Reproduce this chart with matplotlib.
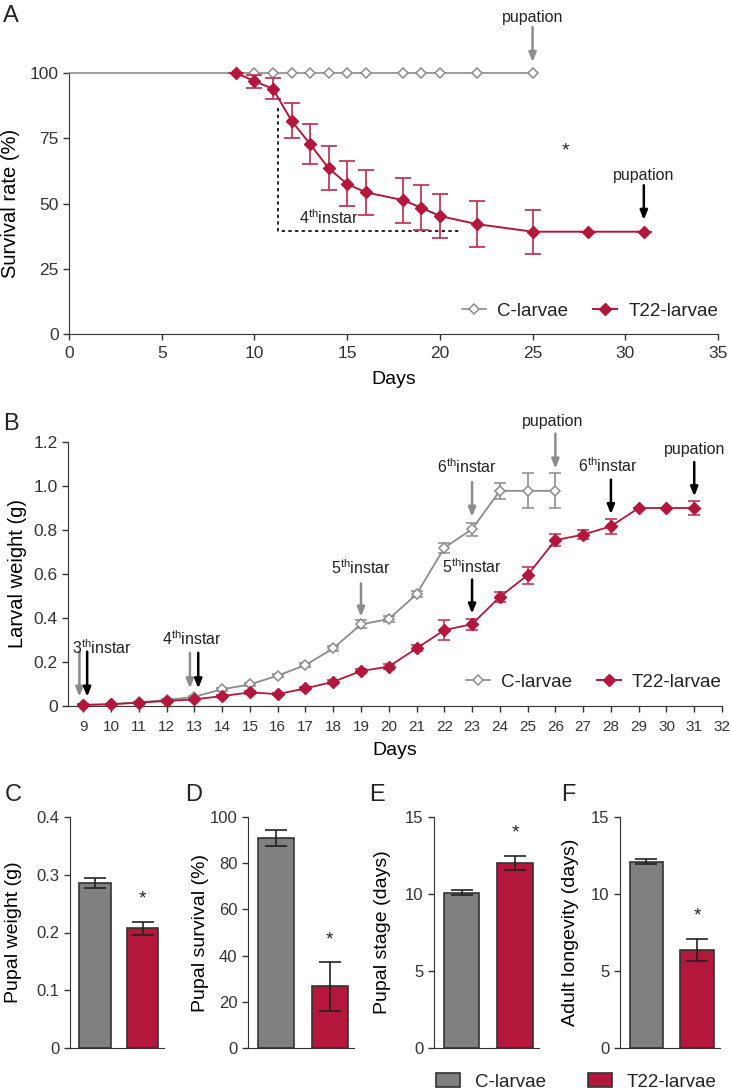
import matplotlib
matplotlib.use('Agg')
import matplotlib.pyplot as plt
from matplotlib.patches import Patch
from matplotlib.lines import Line2D

plt.rcParams['font.family'] = ['Liberation Sans', 'DejaVu Sans']
plt.rcParams['mathtext.fontset'] = 'custom'
plt.rcParams['mathtext.rm'] = 'Liberation Sans'
plt.rcParams['axes.edgecolor'] = '#333333'
plt.rcParams['xtick.color'] = '#333333'
plt.rcParams['ytick.color'] = '#333333'
plt.rcParams['text.color'] = '#222222'

RED = '#B3173B'
RED_ERR = '#C4385A'
GRAY = '#8C8C8C'
BAR_GRAY = '#808080'

# ---- panel A: survival rate ----
a_days_c = [0, 10, 11, 12, 13, 14, 15, 16, 18, 19, 20, 22, 25]
a_surv_c = [100, 100, 100, 100, 100, 100, 100, 100, 100, 100, 100, 100, 100]
a_days_t = [9, 10, 11, 12, 13, 14, 15, 16, 18, 19, 20, 22, 25, 28, 31]
a_surv_t = [100, 96.9, 93.9, 81.7, 72.8, 63.5, 57.5, 54.3, 51.3, 48.4, 45.2, 42.1, 39.2, 39.2, 39.2]
a_err_t = [0, 2.5, 4.0, 6.7, 7.7, 8.5, 8.6, 8.7, 8.6, 8.7, 8.6, 8.7, 8.5, 0, 0]

# ---- panel B: larval weight ----
b_days_c = list(range(9, 27))
b_wt_c = [0.005, 0.008, 0.017, 0.027, 0.042, 0.076, 0.098, 0.138, 0.186, 0.262, 0.371,
          0.395, 0.508, 0.719, 0.804, 0.978, 0.978, 0.978]
b_err_c = [0.002, 0.002, 0.003, 0.004, 0.005, 0.006, 0.006, 0.007, 0.009, 0.010, 0.018,
           0.012, 0.014, 0.023, 0.030, 0.036, 0.080, 0.080]
b_days_t = list(range(9, 32))
b_wt_t = [0.005, 0.008, 0.015, 0.023, 0.030, 0.045, 0.062, 0.054, 0.080, 0.110, 0.159,
          0.179, 0.262, 0.345, 0.372, 0.496, 0.595, 0.754, 0.779, 0.817, 0.900, 0.900, 0.900]
b_err_t = [0.002, 0.003, 0.003, 0.004, 0.004, 0.006, 0.006, 0.006, 0.007, 0.008, 0.010,
           0.010, 0.014, 0.047, 0.025, 0.023, 0.039, 0.026, 0.020, 0.035, 0.0, 0.0, 0.030]

# instar / pupation markers in B: (day, arrow tail, arrow tip, colour)
b_arrows = [(8.86, 0.247, 0.042, GRAY), (9.14, 0.247, 0.042, 'black'),
            (12.84, 0.242, 0.080, GRAY), (13.14, 0.242, 0.080, 'black'),
            (19, 0.557, 0.406, GRAY), (23, 1.018, 0.860, GRAY), (26, 1.238, 1.079, GRAY),
            (23, 0.575, 0.420, 'black'), (28, 1.029, 0.872, 'black'), (31, 1.109, 0.953, 'black')]
b_labels = [(9.66, 0.225, r'$\mathregular{3^{th}instar}$'), (12.9, 0.262, r'$\mathregular{4^{th}instar}$'),
            (19.0, 0.585, r'$\mathregular{5^{th}instar}$'), (22.8, 1.045, r'$\mathregular{6^{th}instar}$'),
            (25.9, 1.258, 'pupation'), (23.0, 0.593, r'$\mathregular{5^{th}instar}$'),
            (27.9, 1.048, r'$\mathregular{6^{th}instar}$'), (31.0, 1.133, 'pupation')]

# ---- panels C-F: bar charts ----
groups = ['C-larvae', 'T22-larvae']
pupal_weight = [0.286, 0.207]
pupal_weight_err = [0.009, 0.012]
pupal_survival = [90.9, 26.7]
pupal_survival_err = [3.4, 10.5]
pupal_stage = [10.08, 12.02]
pupal_stage_err = [0.15, 0.46]
adult_longevity = [12.09, 6.37]
adult_longevity_err = [0.17, 0.73]

W, H = 732, 1091
fig = plt.figure(figsize=(W / 100, H / 100), dpi=100)


def px_axes(left, top, right, bottom):
    return fig.add_axes([left / W, 1 - bottom / H, (right - left) / W, (bottom - top) / H])


def clean(ax):
    ax.spines['top'].set_visible(False)
    ax.spines['right'].set_visible(False)
    ax.tick_params(direction='out', length=4, width=1)


# ================= A =================
axA = px_axes(69, 73, 718, 334)
clean(axA)
axA.plot(a_days_c, a_surv_c, color=GRAY, lw=1.2, marker='D', ms=5, mfc='white', mec=GRAY,
         mew=1.1, markevery=list(range(1, len(a_days_c))), clip_on=False, zorder=3)
axA.errorbar(a_days_t, a_surv_t, yerr=a_err_t, color=RED, ecolor=RED_ERR, lw=1.4, elinewidth=1.3,
             capsize=5.5, capthick=1.3, marker='D', ms=6.5, mfc=RED, mec=RED, clip_on=False, zorder=4)
axA.plot([11.29, 11.29, 21.05], [86.5, 39.5, 39.5], color='black', lw=1.2, ls=(0, (2, 2)))
axA.text(14.0, 41, r'$\mathregular{4^{th}instar}$', ha='center', va='bottom', fontsize=11.5)
axA.text(26.75, 67, '*', ha='center', va='bottom', fontsize=14)
arrow_kw = dict(arrowstyle='-|>,head_length=0.55,head_width=0.22', lw=1.8, mutation_scale=10,
                shrinkA=0, shrinkB=0)
axA.annotate('', xy=(25, 104.2), xytext=(25, 117.6), arrowprops=dict(color=GRAY, **arrow_kw),
             annotation_clip=False)
axA.text(25, 118.3, 'pupation', ha='center', va='bottom', fontsize=11.5)
axA.annotate('', xy=(31, 43.7), xytext=(31, 57), arrowprops=dict(color='black', **arrow_kw))
axA.text(31, 58, 'pupation', ha='center', va='bottom', fontsize=11.5)
axA.set_xlim(0, 35)
axA.set_ylim(0, 100)
axA.set_xticks(range(0, 36, 5))
axA.set_yticks([0, 25, 50, 75, 100])
axA.tick_params(labelsize=12.5)
axA.tick_params(axis='x', pad=5)
axA.set_xlabel('Days', fontsize=14, labelpad=7)
axA.set_ylabel('Survival rate (%)', fontsize=14.5)
axA.yaxis.set_label_coords(-0.076, 0.5)
hA = [Line2D([], [], color=GRAY, lw=1.2, marker='D', ms=5, mfc='white', mec=GRAY, mew=1.1),
      Line2D([], [], color=RED, lw=1.4, marker='D', ms=6.5, mfc=RED, mec=RED)]
axA.legend(hA, groups, loc='center right', bbox_to_anchor=(1.0, 0.088), ncol=2, frameon=False,
           fontsize=13.5, handlelength=1.3, handletextpad=0.6, columnspacing=1.3,
           borderaxespad=0, borderpad=0)

# ================= B =================
axB = px_axes(68, 442, 722, 706)
clean(axB)
axB.errorbar(b_days_c, b_wt_c, yerr=b_err_c, color=GRAY, ecolor=GRAY, lw=1.3, elinewidth=1.2,
             capsize=4.5, capthick=1.2, marker='D', ms=5, mfc='white', mec=GRAY, mew=1.1,
             clip_on=False, zorder=3)
axB.errorbar(b_days_t, b_wt_t, yerr=b_err_t, color=RED, ecolor=RED_ERR, lw=1.3, elinewidth=1.2,
             capsize=4.5, capthick=1.2, marker='D', ms=6, mfc=RED, mec=RED, clip_on=False, zorder=4)
for x, y0, y1, c in b_arrows:
    axB.annotate('', xy=(x, y1), xytext=(x, y0), arrowprops=dict(color=c, **arrow_kw),
                 annotation_clip=False)
for x, y, s in b_labels:
    axB.text(x, y, s, ha='center', va='bottom', fontsize=11.5)
axB.set_xlim(8.45, 32)
axB.set_ylim(0, 1.2)
axB.set_xticks(range(9, 33))
axB.set_yticks([0, 0.2, 0.4, 0.6, 0.8, 1.0, 1.2])
axB.set_yticklabels(['0', '0.2', '0.4', '0.6', '0.8', '1.0', '1.2'])
axB.tick_params(axis='y', labelsize=12.5)
axB.tick_params(axis='x', labelsize=11, pad=6)
axB.set_xlabel('Days', fontsize=14, labelpad=6)
axB.set_ylabel('Larval weight (g)', fontsize=14.5)
axB.yaxis.set_label_coords(-0.063, 0.5)
axB.legend(hA, groups, loc='center right', bbox_to_anchor=(1.0, 0.091), ncol=2, frameon=False,
           fontsize=13.5, handlelength=1.3, handletextpad=0.6, columnspacing=1.3,
           borderaxespad=0, borderpad=0)

# ================= C-F =================
bar_panels = [
    ((70, 164), pupal_weight, pupal_weight_err, 'Pupal weight (g)', (0, 0.4), [0, 0.1, 0.2, 0.3, 0.4],
     ['0', '0.1', '0.2', '0.3', '0.4'], -0.51),
    ((248, 354), pupal_survival, pupal_survival_err, 'Pupal survival (%)', (0, 100), [0, 20, 40, 60, 80, 100],
     None, -0.37),
    ((434, 539), pupal_stage, pupal_stage_err, 'Pupal stage (days)', (0, 15), [0, 5, 10, 15], None, -0.41),
    ((620, 720), adult_longevity, adult_longevity_err, 'Adult longevity (days)', (0, 15), [0, 5, 10, 15],
     None, -0.41),
]
for (x0, x1), vals, errs, label, ylim, yt, ytl, lx in bar_panels:
    ax = px_axes(x0, 817, x1, 1048)
    clean(ax)
    ax.bar([0, 1], vals, width=0.66, yerr=errs, color=[BAR_GRAY, RED], edgecolor='#333333',
           linewidth=1.2, capsize=8, error_kw=dict(ecolor='#222222', elinewidth=1.2, capthick=1.2))
    star_y = vals[1] + errs[1] + (ylim[1] - ylim[0]) * 0.06
    ax.text(1, star_y, '*', ha='center', va='bottom', fontsize=14)
    ax.set_xlim(-0.52, 1.45)
    ax.set_ylim(*ylim)
    ax.set_xticks([])
    ax.set_yticks(yt)
    if ytl:
        ax.set_yticklabels(ytl)
    ax.tick_params(axis='y', labelsize=12)
    ax.set_ylabel(label, fontsize=14)
    ax.yaxis.set_label_coords(lx, 0.5)

# panel letters
for letter, x, y in [('A', 3, 22), ('B', 3, 430), ('C', 5, 801), ('D', 185, 801), ('E', 369, 801),
                     ('F', 561, 801)]:
    fig.text(x / W, 1 - y / H, letter, fontsize=17, va='baseline', ha='left')

hB = [Patch(facecolor=BAR_GRAY, edgecolor='#333333', lw=1.2),
      Patch(facecolor=RED, edgecolor='#333333', lw=1.2)]
fig.legend(hB, groups, loc='center left', bbox_to_anchor=(436 / W, 1 - 1082 / H), ncol=2,
           frameon=False, fontsize=13.5, handlelength=1.3, handleheight=0.7, handletextpad=0.8,
           columnspacing=2.2, borderaxespad=0, borderpad=0)

fig.savefig('out.png', dpi=100)
